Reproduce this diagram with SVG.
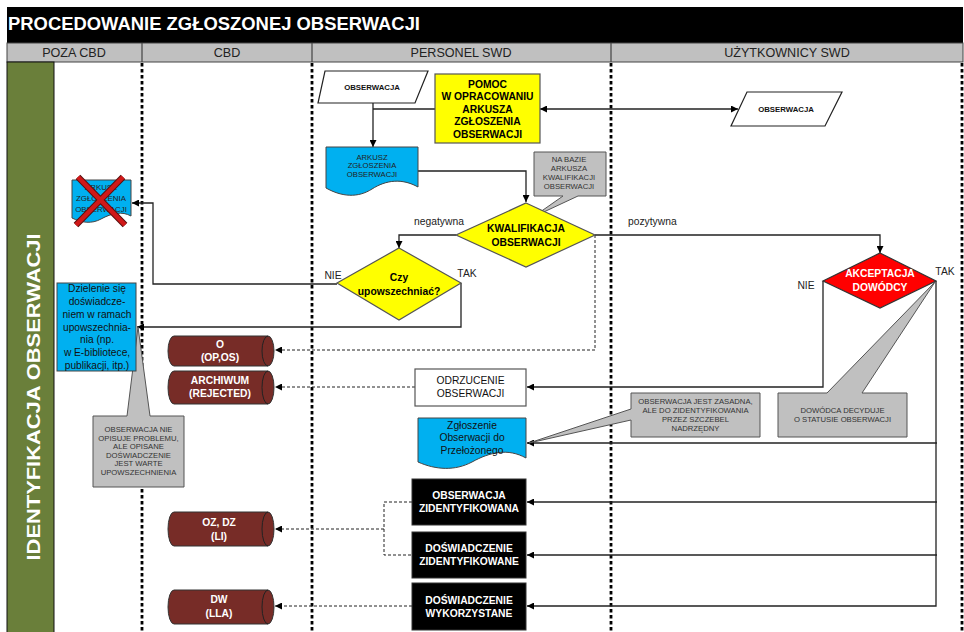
<svg xmlns="http://www.w3.org/2000/svg" width="964" height="632" viewBox="0 0 964 632">
<style>
text{font-family:"Liberation Sans",Arial,sans-serif;text-anchor:middle}
.b{font-weight:bold}
.lane{font-size:12.6px;fill:#222}
.nb{font-size:10.3px;font-weight:bold}
.nr{font-size:10.3px;fill:#111}
.sm{font-size:7.7px;fill:#333}
.smb{font-size:7.8px;font-weight:bold;fill:#111}
.w{fill:#fff}
.div{stroke:#000;stroke-width:2.8;stroke-dasharray:3.5 2.5;fill:none}
.ln{fill:none;stroke:#222;stroke-width:1.3}
.dl{fill:none;stroke:#222;stroke-width:1;stroke-dasharray:3 2}
.call{fill:#c0c0c0;stroke:#555;stroke-width:1}
.cyl{fill:#772c27;stroke:#333;stroke-width:1}
.blk{fill:#000;stroke:#333}
.cyan{fill:#00b0f0;stroke:#444;stroke-width:1}
.yel{fill:#ffff00;stroke:#555;stroke-width:1.2}
</style>
<defs>
<marker id="ah" viewBox="0 0 10 10" refX="10" refY="5" markerWidth="8" markerHeight="7" markerUnits="userSpaceOnUse" orient="auto-start-reverse"><path d="M0,0 L10,5 L0,10 z" fill="#000"/></marker>
</defs>
<rect width="964" height="632" fill="#fff"/>
<g id="header">
<rect x="7" y="7" width="956" height="36" fill="#000"/>
<text x="8" y="30" class="b w" style="font-size:18.3px;text-anchor:start" textLength="412" lengthAdjust="spacingAndGlyphs">PROCEDOWANIE ZGŁOSZONEJ OBSERWACJI</text>
<rect x="7" y="43" width="956" height="19" fill="#c0c0c0" stroke="#444" stroke-width="1"/>
<path d="M142,43V62M312,43V62M611,43V62" stroke="#444" stroke-width="1.2"/>
<text x="74" y="57" class="lane">POZA CBD</text>
<text x="227" y="57" class="lane">CBD</text>
<text x="461" y="57" class="lane">PERSONEL SWD</text>
<text x="787" y="57" class="lane">UŻYTKOWNICY SWD</text>
</g>
<g id="phase">
<rect x="7" y="62" width="47" height="572" fill="#6a7f3a" stroke="#111" stroke-width="1"/>
<text transform="translate(40,397) rotate(-90)" class="b w" style="font-size:18px" textLength="327" lengthAdjust="spacingAndGlyphs">IDENTYFIKACJA OBSERWACJI</text>
</g>
<g id="lanes">
<path class="div" d="M142,63V632M312,63V632M611,63V632M962,63V632"/>
</g>
<g id="connectors">
<path class="ln" d="M373,103V147" marker-end="url(#ah)"/>
<path class="ln" d="M435,109H373"/>
<path class="ln" d="M540,109H738" marker-start="url(#ah)" marker-end="url(#ah)"/>
<path class="ln" d="M418,171H526V202" marker-end="url(#ah)"/>
<path class="ln" d="M456,235H399V248" marker-end="url(#ah)"/>
<path class="ln" d="M595,235H880V253" marker-end="url(#ah)"/>
<path class="dl" d="M595,235V350H275" marker-end="url(#ah)"/>
<path class="ln" d="M337,284H153V203H132" stroke="#444" marker-end="url(#ah)"/>
<path class="ln" d="M461,283V327H137" marker-end="url(#ah)"/>
<path class="ln" d="M823,281V387H527" marker-end="url(#ah)"/>
<path class="dl" d="M415,387H275" marker-end="url(#ah)"/>
<path class="ln" d="M936,281V606H527" marker-end="url(#ah)"/>
<path class="ln" d="M937,443H527" marker-end="url(#ah)"/>
<path class="ln" d="M937,502H527" marker-end="url(#ah)"/>
<path class="ln" d="M937,555H527" stroke="#555" marker-end="url(#ah)"/>
<path class="dl" d="M412,502H384V555H412M384,529H275" marker-end="url(#ah)"/>
<path class="dl" d="M412,606H275" marker-end="url(#ah)"/>
</g>
<g id="obserwacja1">
<path d="M325,71H428L415,103H318Z" fill="#fff" stroke="#222" stroke-width="1.2"/>
<text x="372" y="90" class="smb">OBSERWACJA</text>
</g>
<g id="pomoc">
<rect x="435" y="74" width="105" height="69" class="yel"/>
<text x="487.5" y="87.7" class="nb">POMOC</text>
<text x="487.5" y="100.2" class="nb">W OPRACOWANIU</text>
<text x="487.5" y="112.7" class="nb">ARKUSZA</text>
<text x="487.5" y="125.2" class="nb">ZGŁOSZENIA</text>
<text x="487.5" y="137.7" class="nb">OBSERWACJI</text>
</g>
<g id="obserwacja2">
<path d="M747,92H842L825,126H731Z" fill="#fff" stroke="#222" stroke-width="1.2"/>
<text x="786" y="112" class="smb">OBSERWACJA</text>
</g>
<g id="arkusz">
<path d="M326,147H418V187C402,178 386,180 372,189C358,198 342,197 326,188Z" class="cyan"/>
<text x="372" y="159.5" class="sm" style="fill:#222">ARKUSZ</text>
<text x="372" y="168.2" class="sm" style="fill:#222">ZGŁOSZENIA</text>
<text x="372" y="177" class="sm" style="fill:#222">OBSERWACJI</text>
</g>
<g id="nabazie">
<path d="M534,152H606V196H578L533,217L563,196H534Z" class="call"/>
<text x="569" y="162" class="sm">NA BAZIE</text>
<text x="569" y="171" class="sm">ARKUSZA</text>
<text x="569" y="180" class="sm">KWALIFIKACJI</text>
<text x="569" y="189.3" class="sm">OBSERWACJI</text>
</g>
<g id="kwalifikacja">
<path d="M526,203L595,235L526,267L456,235Z" class="yel"/>
<text x="526" y="231.7" class="nb">KWALIFIKACJA</text>
<text x="526" y="245.7" class="nb">OBSERWACJI</text>
</g>
<g id="labels">
<text x="439" y="225" class="nr" style="fill:#222">negatywna</text>
<text x="628" y="225" class="nr" style="fill:#222;text-anchor:start">pozytywna</text>
<text x="333" y="278.7" class="nr" style="fill:#222">NIE</text>
<text x="467" y="276.7" class="nr" style="fill:#222">TAK</text>
<text x="806" y="288.7" class="nr" style="fill:#222">NIE</text>
<text x="945" y="274.7" class="nr" style="fill:#222">TAK</text>
</g>
<g id="czy">
<path d="M399,248L461,283L399,320L337,283Z" class="yel"/>
<text x="399" y="280.5" class="nb">Czy</text>
<text x="399" y="294.5" class="nb">upowszechniać?</text>
</g>
<g id="akceptacja">
<path d="M880,253L936,281L880,308L823,281Z" fill="#ff0000" stroke="#333" stroke-width="1.2"/>
<text x="880" y="276.7" class="nb w">AKCEPTACJA</text>
<text x="880" y="290.7" class="nb w">DOWÓDCY</text>
</g>
<g id="arkusz-odrzucony">
<path d="M72,180H131V216C122,211 112,213 101,219C92,224 82,223 72,218Z" class="cyan"/>
<text x="101" y="190" class="sm" style="font-size:7.9px;fill:#222">ARKUSZ</text>
<text x="101" y="201" class="sm" style="font-size:7.9px;fill:#222">ZGŁOSZENIA</text>
<text x="101" y="212" class="sm" style="font-size:7.9px;fill:#222">OBSERWACJI</text>
<path d="M78,177L125,225M123,177L76,225" stroke="#5a1010" stroke-width="6.5" stroke-linecap="butt"/>
<path d="M78,177L125,225M123,177L76,225" stroke="#d01818" stroke-width="4.5"/>
</g>
<g id="callout-nieopisuje">
<path d="M93,416H127L138,327L150,416H184V487H93Z" class="call"/>
<text x="138.5" y="432" class="sm">OBSERWACJA NIE</text>
<text x="138.5" y="440.5" class="sm">OPISUJE PROBLEMU,</text>
<text x="138.5" y="449" class="sm">ALE OPISANE</text>
<text x="138.5" y="457.5" class="sm">DOŚWIADCZENIE</text>
<text x="138.5" y="466" class="sm">JEST WARTE</text>
<text x="138.5" y="474.5" class="sm">UPOWSZECHNIENIA</text>
</g>
<g id="dzielenie">
<rect x="57" y="283" width="79" height="88" class="cyan"/>
<text x="97" y="292.1" class="nr" style="font-size:10.2px">Dzielenie się</text>
<text x="97" y="304.9" class="nr" style="font-size:10.2px">doświadcze-</text>
<text x="97" y="317.7" class="nr" style="font-size:10.2px">niem w ramach</text>
<text x="97" y="330.5" class="nr" style="font-size:10.2px">upowszechnia-</text>
<text x="97" y="343.3" class="nr" style="font-size:10.2px">nia (np.</text>
<text x="97" y="356.1" class="nr" style="font-size:10.2px">w E-bibliotece,</text>
<text x="97" y="368.9" class="nr" style="font-size:10.2px">publikacji, itp.)</text>
</g>
<g id="db-o">
<path d="M174,336H268A6,15 0 0 1 268,366H174A6,15 0 0 1 174,336Z" class="cyl"/>
<path d="M268,336A6,15 0 0 0 268,366" fill="none" stroke="#222"/>
<text x="220" y="347.7" class="nb w">O</text>
<text x="220" y="360.7" class="nb w">(OP,OS)</text>
</g>
<g id="db-archiwum">
<path d="M174,371H268A6,16.5 0 0 1 268,404H174A6,16.5 0 0 1 174,371Z" class="cyl"/>
<path d="M268,371A6,16.5 0 0 0 268,404" fill="none" stroke="#222"/>
<text x="220" y="383.7" class="nb w">ARCHIWUM</text>
<text x="220" y="396.7" class="nb w">(REJECTED)</text>
</g>
<g id="odrzucenie">
<rect x="415" y="369" width="111" height="37" fill="#fff" stroke="#555" stroke-width="1.2"/>
<text x="470.5" y="383.7" class="nr">ODRZUCENIE</text>
<text x="470.5" y="396.7" class="nr">OBSERWACJI</text>
</g>
<g id="zgloszenie">
<path d="M418,418H526V458C508,448 490,452 472,462C455,471 436,470 418,462Z" class="cyan"/>
<text x="472" y="428.7" class="nr">Zgłoszenie</text>
<text x="472" y="441" class="nr">Obserwacji do</text>
<text x="472" y="453.5" class="nr">Przełożonego</text>
</g>
<g id="callout-zasadna">
<path d="M631,393H760V437H631V420L529,443L631,409Z" class="call"/>
<text x="695.5" y="403.8" class="sm">OBSERWACJA JEST ZASADNA,</text>
<text x="695.5" y="412.8" class="sm">ALE DO ZIDENTYFIKOWANIA</text>
<text x="695.5" y="421.8" class="sm">PRZEZ SZCZEBEL</text>
<text x="695.5" y="430.8" class="sm">NADRZĘDNY</text>
</g>
<g id="callout-dowodca">
<path d="M778,393H827L935,282L862,393H907V437H778Z" class="call"/>
<text x="842.5" y="412.8" class="sm">DOWÓDCA DECYDUJE</text>
<text x="842.5" y="421.8" class="sm">O STATUSIE OBSERWACJI</text>
</g>
<g id="obs-zid">
<rect x="412" y="479" width="114" height="46" class="blk"/>
<text x="469" y="498.7" class="nb w">OBSERWACJA</text>
<text x="469" y="511.7" class="nb w">ZIDENTYFIKOWANA</text>
</g>
<g id="dosw-zid">
<rect x="412" y="532" width="114" height="46" class="blk"/>
<text x="469" y="551.7" class="nb w">DOŚWIADCZENIE</text>
<text x="469" y="564.7" class="nb w">ZIDENTYFIKOWANE</text>
</g>
<g id="dosw-wyk">
<rect x="412" y="583" width="114" height="47" class="blk"/>
<text x="469" y="603.7" class="nb w">DOŚWIADCZENIE</text>
<text x="469" y="616.7" class="nb w">WYKORZYSTANE</text>
</g>
<g id="db-ozdz">
<path d="M174,512H268A6,17 0 0 1 268,546H174A6,17 0 0 1 174,512Z" class="cyl"/>
<path d="M268,512A6,17 0 0 0 268,546" fill="none" stroke="#222"/>
<text x="219" y="525.7" class="nb w">OZ, DZ</text>
<text x="219" y="539.7" class="nb w">(LI)</text>
</g>
<g id="db-dw">
<path d="M174,590H268A6,17 0 0 1 268,624H174A6,17 0 0 1 174,590Z" class="cyl"/>
<path d="M268,590A6,17 0 0 0 268,624" fill="none" stroke="#222"/>
<text x="219" y="602.7" class="nb w">DW</text>
<text x="219" y="616.7" class="nb w">(LLA)</text>
</g>
</svg>
